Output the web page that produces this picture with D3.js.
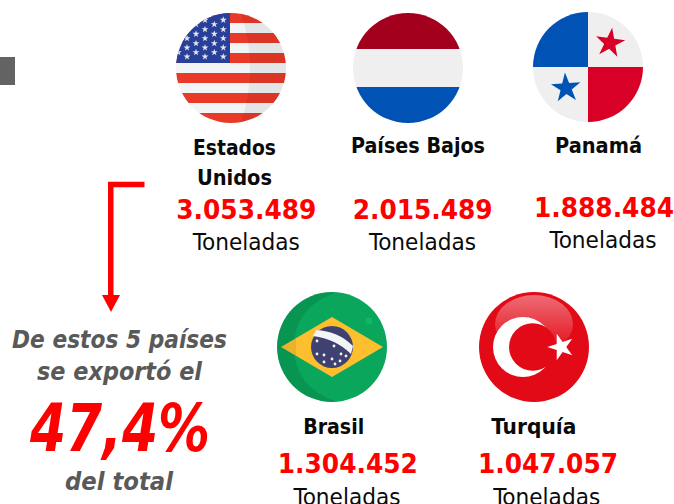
<!DOCTYPE html>
<html><head><meta charset="utf-8">
<script src="https://cdn.jsdelivr.net/npm/d3@7"></script>
<style>html,body{margin:0;padding:0;background:#fff}svg{display:block}text{font-family:"DejaVu Sans";font-stretch:condensed}</style>
</head><body><svg id="c" width="674" height="504"></svg>
<script>
const countries = ["Estados Unidos","Países Bajos","Panamá","Brasil","Turquía"];
const tonnes = [3053489,2015489,1888484,1304452,1047057];
const unitLabel = "Toneladas";
const introLines = ["De estos 5 países","se exportó el"];
const shareLabel = "47,4%";
const outroLabel = "del total";

const svg = d3.select("#c");
const fmt = d3.formatLocale({decimal:",",thousands:".",grouping:[3],currency:["",""]}).format(",d");
const layout = [
 {fx:231,fy:68,draw:usa, name:[[234.5,155,83,"Estados"],[234.5,185,75,"Unidos"]], nx:246.3,ny:219,tx:246.3,ty:250},
 {fx:408,fy:68,draw:nld, name:[[418,153,134]], nx:422.7,ny:219,tx:422.5,ty:250},
 {fx:588,fy:67,draw:pan, name:[[598.5,153,87]], nx:604,ny:217,tx:603,ty:248},
 {fx:332,fy:347,draw:bra, name:[[333.7,434,61]], nx:347.8,ny:473,tx:347,ty:504.5},
 {fx:534,fy:347,draw:tur, name:[[533.8,434,85]], nx:548,ny:473,tx:546.7,ty:504.5}
];
const R = 55;
const defs = svg.append("defs");
const gloss = defs.append("linearGradient").attr("id","gl").attr("x1",0).attr("y1",0).attr("x2",0).attr("y2",1);
gloss.append("stop").attr("offset",0).attr("stop-color","#fff").attr("stop-opacity",.4);
gloss.append("stop").attr("offset",.75).attr("stop-color","#fff").attr("stop-opacity",.1);
gloss.append("stop").attr("offset",1).attr("stop-color","#fff").attr("stop-opacity",0);

function star(g,x,y,size,fill,rot){
  g.append("path").attr("d",d3.symbol(d3.symbolStar,size)()).attr("transform",`translate(${x},${y}) rotate(${rot||0})`).attr("fill",fill);
}
function rect(g,x,y,w,h,f,o){return g.append("rect").attr("x",x).attr("y",y).attr("width",w).attr("height",h).attr("fill",f).attr("opacity",o==null?1:o);}

function usa(g){
  rect(g,-R,-R,2*R,2*R,"#f3f4f6");
  d3.range(6).forEach(i=>rect(g,-R,-55+i*20,2*R,10,"#e93a28"));
  rect(g,-R,-R,54,50,"#29409b");
  const sCols=[-7.7,-16.7,-26,-35,-44,-52.7];
  const sRows=[-48,-43.7,-38.7,-34,-29.7,-24.7,-20.3,-15.7,-11.3];
  sRows.forEach((y,r)=>sCols.forEach((x,c)=>{ if((r+c)%2===0) star(g,x,y,15,"#e4e7f1"); }));
  g.append("path").attr("d","M10,-55 Q28,0 10,55 L55,55 L55,-55Z").attr("fill","#000").attr("opacity",.06);
}
function nld(g){
  rect(g,-R,-R,2*R,36,"#a2001d");
  rect(g,-R,-19,2*R,38,"#efefef");
  rect(g,-R,19,2*R,36,"#0052b4");
}
function pan(g){
  rect(g,-R,-R,2*R,2*R,"#efefef");
  rect(g,-R,-R,R,R,"#0052b4");
  rect(g,0,0,R,R,"#d80027");
  star(g,22,-24,270,"#d80027",8);
  star(g,-22,21,270,"#0052b4",-4);
}
function bra(g){
  rect(g,-R,-R,2*R,2*R,"#0aa65c");
  g.append("path").attr("d","M5,-55 Q-38,-40 -38,0 Q-38,40 5,55 L-55,55 L-55,-55Z").attr("fill","#000").attr("opacity",.1);
  g.append("path").attr("d","M0,-30 L51,0 L0,30 L-51,0Z").attr("fill","#fdbf2e");
  g.append("path").attr("d","M-39,-7 L-51,0 L-39,7Z M-39,-7 L-39,7 L-36,9 L-36,-9Z").attr("fill","#000").attr("opacity",.07);
  g.append("circle").attr("r",21).attr("fill","#3f4270");
  g.append("path").attr("d","M-19,-11 Q4,-8 19,7 L21,-1 Q6,-16 -16,-17Z").attr("fill","#f3f4f6");
  [[-15,-6],[2,-1],[-15,7],[-8,8],[0,12],[8,14],[9,7],[14,9],[-8,15],[3,17]].forEach(([x,y])=>
    g.append("circle").attr("cx",x).attr("cy",y).attr("r",1.4).attr("fill","#f3f4f6"));
  g.append("circle").attr("cx",37).attr("cy",-26).attr("r",3.5).attr("fill","#10b565");
}
function tur(g){
  rect(g,-R,-R,2*R,2*R,"#e30a17");
  g.append("ellipse").attr("cx",0).attr("cy",-23).attr("rx",39).attr("ry",29).attr("fill","url(#gl)");
  g.append("circle").attr("cx",-11).attr("cy",0).attr("r",30).attr("fill","#fff");
  g.append("circle").attr("cx",-1.3).attr("cy",0).attr("r",23.7).attr("fill","#e30a17");
  star(g,27,0,215,"#fff",-90);
}

rect(svg,0,57,15,28,"#636363");

layout.forEach((d,i)=>{
  const id="clip"+i;
  defs.append("clipPath").attr("id",id).append("circle").attr("r",R);
  const g=svg.append("g").attr("transform",`translate(${d.fx},${d.fy})`).append("g").attr("clip-path",`url(#${id})`);
  d.draw(g);
  d.name.forEach(n=>txt(n[0],n[1],n[3]||countries[i],21,"bold","normal","#0a0a0a",n[2]));
  txt(d.nx,d.ny,fmt(tonnes[i]),27,"bold","normal","#ff0000",140);
  txt(d.tx,d.ty,unitLabel,22.5,"normal","normal","#0a0a0a",107);
});
function txt(x,y,s,size,w,st,fill,len){
  return svg.append("text").attr("x",x).attr("y",y).attr("text-anchor","middle").attr("font-size",size)
    .attr("font-weight",w).attr("font-style",st).attr("fill",fill)
    .attr("textLength",len).attr("lengthAdjust","spacingAndGlyphs").text(s);
}
txt(119.5,348,introLines[0],24.5,"bold","italic","#595959",215);
txt(119.5,380,introLines[1],24.5,"bold","italic","#595959",165);
txt(120,451,shareLabel,66,"bold","italic","#ff0000",180);
txt(119,490,outroLabel,24.5,"bold","italic","#595959",108);

// arrow
svg.append("path").attr("d","M144.5,184.5 L110.75,184.5 L110.75,297").attr("fill","none").attr("stroke","#ff0000").attr("stroke-width",5.5);
svg.append("path").attr("d","M102,295 L120,295 L111,312Z").attr("fill","#ff0000");
</script></body></html>
